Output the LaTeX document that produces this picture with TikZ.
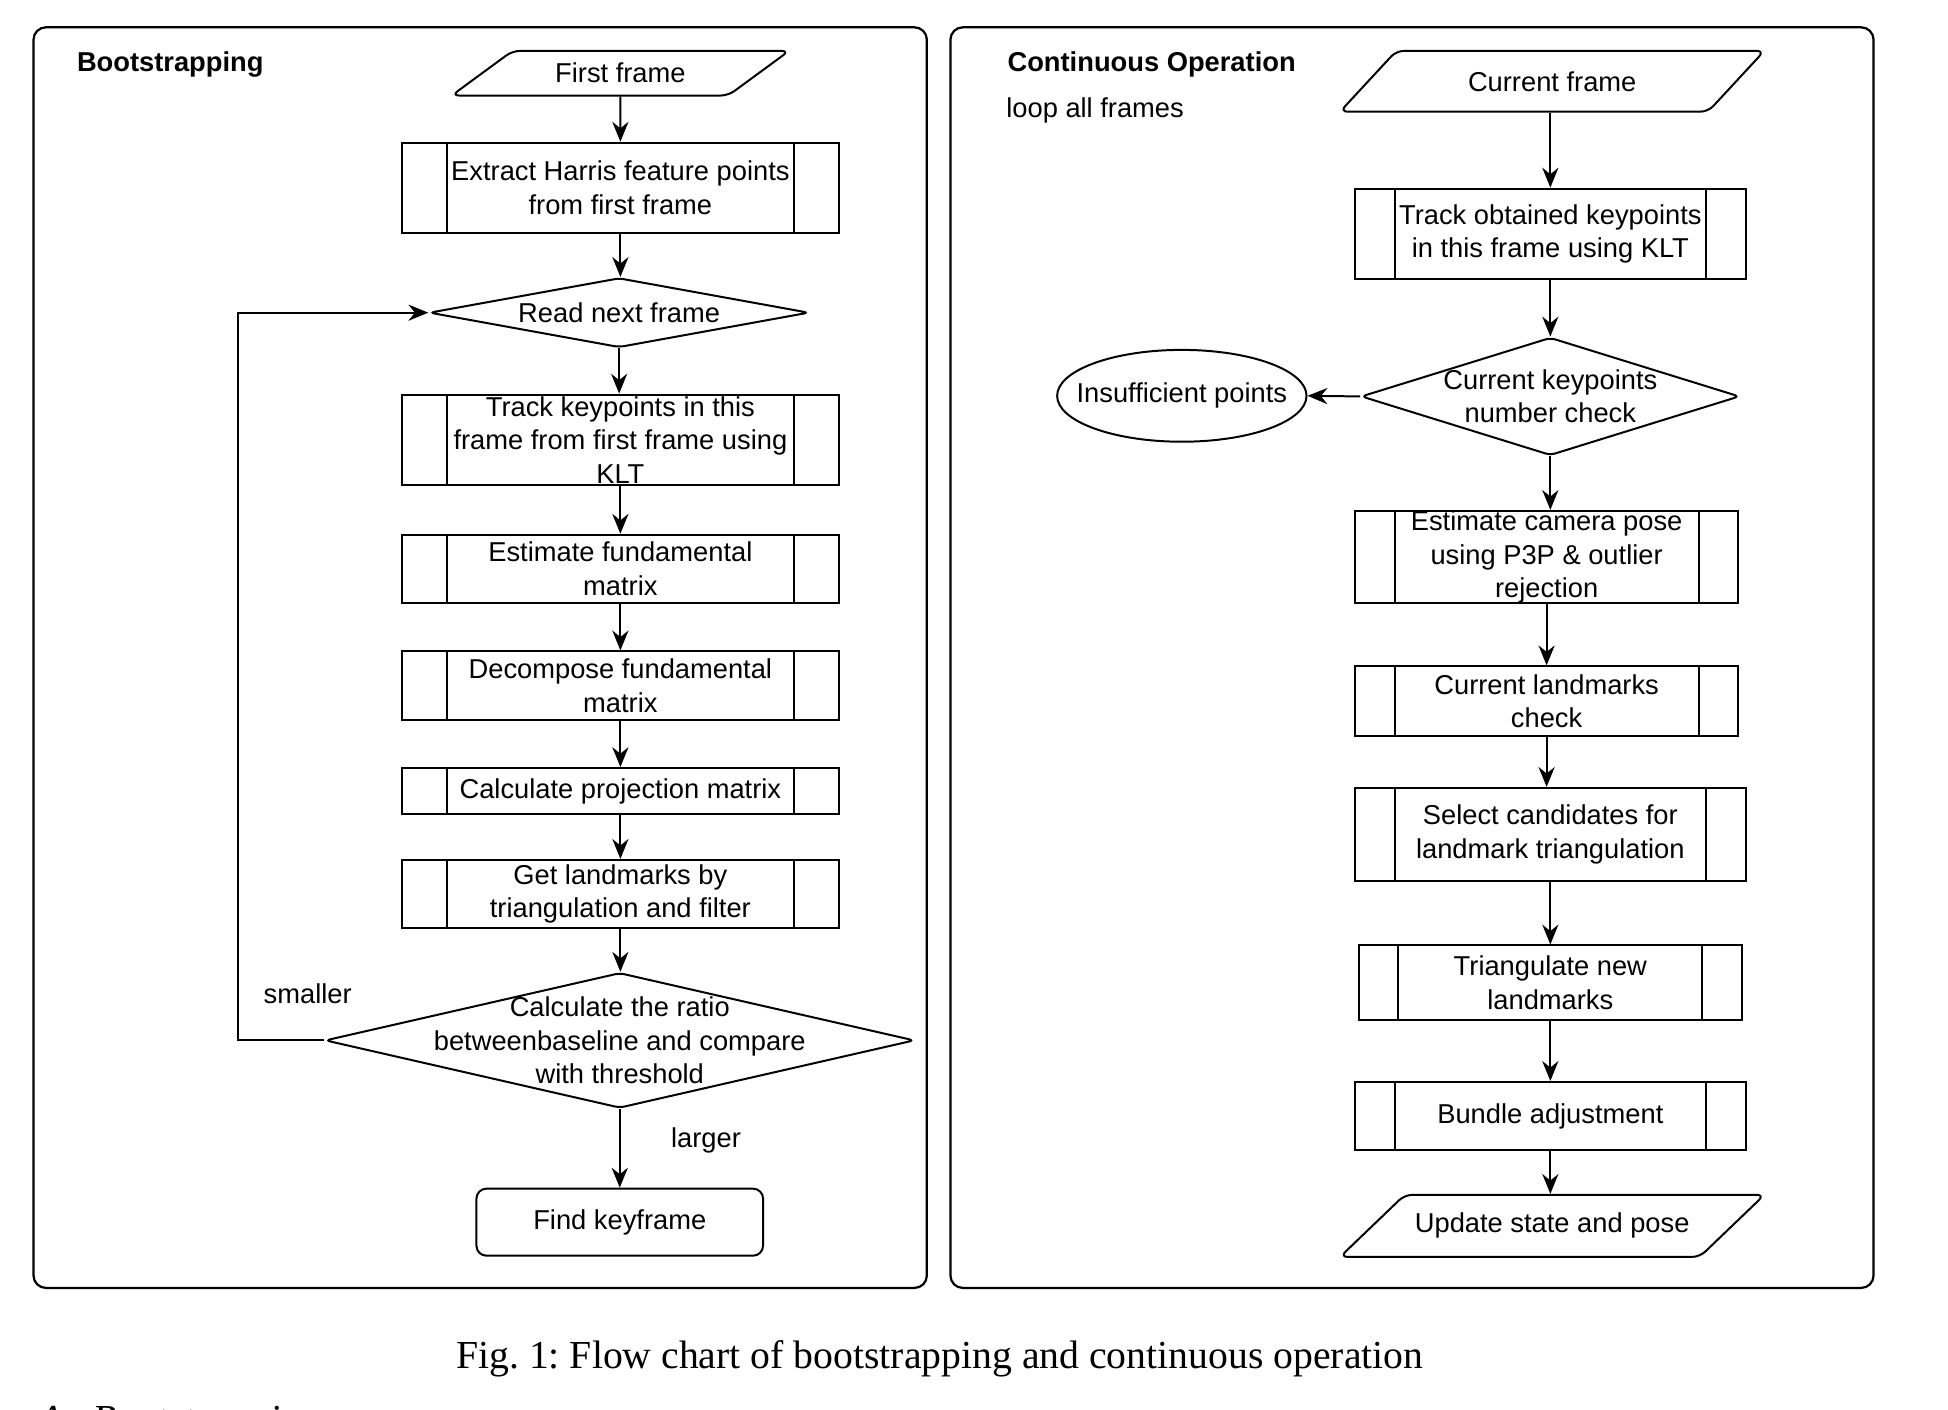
\documentclass[tikz,border=0pt]{standalone}
\usepackage{fontspec}
\setmainfont{Liberation Sans}
\newfontfamily\capserif{Liberation Serif}
\usetikzlibrary{shapes.geometric,arrows.meta}

\begin{document}
\begin{tikzpicture}[x=0.5pt, y=-0.5pt,
    font=\fontsize{11}{13.5}\selectfont,
    flow/.style={-{Stealth[length=8pt,width=6.5pt]}, line width=0.8pt},
    procbox/.style={draw, rectangle, line width=0.8pt, inner ysep=0pt, align=center,
      path picture={\draw[line width=0.8pt]
        ([xshift=#1]path picture bounding box.north west) -- ([xshift=#1]path picture bounding box.south west)
        ([xshift=-#1]path picture bounding box.north east) -- ([xshift=-#1]path picture bounding box.south east);}},
    procbox/.default=18pt,
    decision/.style={draw, diamond, line width=0.8pt, rounded corners=2pt, inner sep=0pt},
    iobox/.style={draw, trapezium, trapezium stretches body=true, line width=0.8pt, rounded corners=3pt},
    panel/.style={draw, line width=0.9pt, rounded corners=5pt},
    heading/.style={anchor=west, font=\fontsize{11}{13.5}\selectfont\bfseries}
  ]
  \useasboundingbox (0,0) rectangle (1570,1136);
  % frames
  \draw[panel] (27,22) rectangle (747,1038);
  \draw[panel] (766,22) rectangle (1510,1038);
  \node[heading] (titleboot) at (55,52) {Bootstrapping};
  \node[heading] (titlecont) at (805,52) {Continuous Operation};
  \node[anchor=west] (loopnote) at (804,89) {loop all frames};

  % bootstrapping
  \node[iobox, trapezium left angle=31, trapezium right angle=149, minimum width=136pt, minimum height=18pt] (first) at (500,59) {First frame};
  \node[procbox, minimum width=176pt, minimum height=36.5pt] (harris) at (500,151.5) {Extract Harris feature points\\from first frame};
  \node[decision, minimum width=153pt, minimum height=28pt, label={center:Read next frame}] (readnext) at (499,252) {};
  \node[procbox, minimum width=176pt, minimum height=36.5pt] (trackfirst) at (500,354.5) {Track keypoints in this\\frame from first frame using\\KLT};
  \node[procbox, minimum width=176pt, minimum height=27.5pt] (estfund) at (500,458.5) {Estimate fundamental\\matrix};
  \node[procbox, minimum width=176pt, minimum height=27.5pt] (decomp) at (500,552.5) {Decompose fundamental\\matrix};
  \node[procbox, minimum width=176pt, minimum height=18.5pt] (projmat) at (500,637.5) {Calculate projection matrix};
  \node[procbox, minimum width=176pt, minimum height=27.5pt] (getlm) at (500,720.5) {Get landmarks by\\triangulation and filter};
  \node[decision, minimum width=237.5pt, minimum height=54.5pt, label={[align=center]center:Calculate the ratio\\betweenbaseline and compare\\with threshold}] (ratio) at (499.5,838.5) {};
  \node[draw, line width=0.8pt, rounded corners=4pt, minimum width=115.5pt, minimum height=27pt] (keyframe) at (499.5,985) {Find keyframe};
  \node (smaller) at (248,801) {smaller};
  \node (larger) at (569,919) {larger};

  % continuous operation
  \node[iobox, trapezium left angle=33, trapezium right angle=147, minimum width=171pt, minimum height=24.5pt] (curframe) at (1251,65.5) {Current frame};
  \node[procbox=16pt, minimum width=157.5pt, minimum height=36.5pt] (trackobt) at (1249.5,188.5) {Track obtained keypoints\\in this frame using KLT};
  \node[decision, minimum width=152.5pt, minimum height=47.5pt, label={[align=center]center:Current keypoints\\number check}] (kpcheck) at (1249.5,319.5) {};
  \node[draw, ellipse, line width=0.8pt, minimum width=100.5pt, minimum height=37pt, inner sep=0pt] (insuff) at (952.5,319) {\makebox[0pt]{Insufficient points}};
  \node[procbox=16pt, minimum width=154.5pt, minimum height=37pt] (estpose) at (1246.5,449) {Estimate camera pose\\using P3P \& outlier\\rejection};
  \node[procbox=16pt, minimum width=154.5pt, minimum height=28pt] (lmcheck) at (1246.5,565) {Current landmarks\\check};
  \node[procbox=16pt, minimum width=157.5pt, minimum height=37.5pt] (select) at (1249.5,672.5) {Select candidates for\\landmark triangulation};
  \node[procbox=16pt, minimum width=154.5pt, minimum height=30pt] (triang) at (1249.5,792) {Triangulate new\\landmarks};
  \node[procbox=16pt, minimum width=157.5pt, minimum height=27.5pt] (bundle) at (1249.5,899.5) {Bundle adjustment};
  \node[iobox, trapezium left angle=33, trapezium right angle=147, minimum width=171pt, minimum height=25pt] (update) at (1251,988) {Update state and pose};

  % connectors
  \foreach \a/\b in {first/harris, harris/readnext, readnext/trackfirst, trackfirst/estfund, estfund/decomp,
      decomp/projmat, projmat/getlm, getlm/ratio, ratio/keyframe,
      trackobt/kpcheck, kpcheck/estpose, estpose/lmcheck, lmcheck/select,
      select/triang, triang/bundle, bundle/update}
    \draw[flow] (\a) -- (\a |- \b.north);
  \draw[flow] (trackobt |- curframe.south) -- (trackobt);
  \draw[flow] (ratio.west) -- ++(-69,0) |- (readnext.west);
  \draw[flow] (kpcheck.west) -- (insuff.east);

  \node[font=\capserif\frenchspacing\fontsize{16}{19}\selectfont] (caption) at (757.5,1095) {Fig. 1: Flow chart of bootstrapping and continuous operation};
  \node[anchor=north west, inner sep=0pt, font=\capserif\itshape\fontsize{16}{19}\selectfont] (section) at (31,1133) {A.\enspace Bootstrapping};
\end{tikzpicture}
\end{document}
